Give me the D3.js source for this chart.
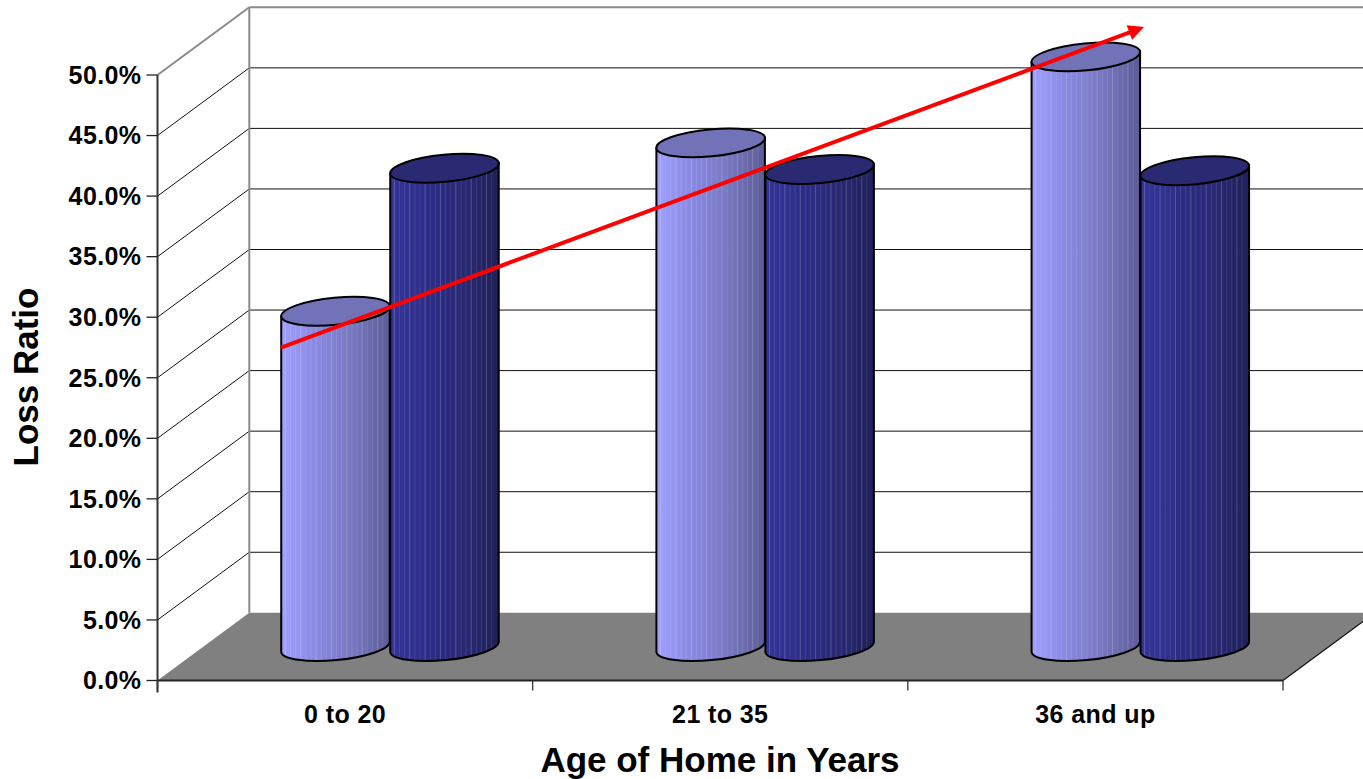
<!DOCTYPE html>
<html>
<head>
<meta charset="utf-8">
<script src="https://cdn.jsdelivr.net/npm/d3@7"></script>
<style>
  html, body { margin: 0; padding: 0; background: #fff; }
  svg { display: block; }
  text { font-family: Arial, "Liberation Sans", sans-serif; font-weight: bold; fill: #000; }
</style>
</head>
<body>
<svg id="chart" width="1363" height="779"></svg>
<script>
// ---- data ----
const categories = ["0 to 20", "21 to 35", "36 and up"];
const seriesA = [27.7, 41.6, 48.7];   // light cylinders
const seriesB = [39.5, 39.4, 39.3];   // dark cylinders
const yTicks = [0, 5, 10, 15, 20, 25, 30, 35, 40, 45, 50];
const yTickLabels = ["0.0%", "5.0%", "10.0%", "15.0%", "20.0%", "25.0%", "30.0%", "35.0%", "40.0%", "45.0%", "50.0%"];
const trendValues = [24.7, 51.2];     // red arrow start/end (loss ratio %)
const yTitle = "Loss Ratio";
const xTitle = "Age of Home in Years";

// ---- layout ----
const W = 1363, H = 779;
const svg = d3.select("#chart");
const x0 = 157.5, x1 = 1283;
const DX = 91.8, DY = -67.7;          // depth offset (front -> back)
const y = d3.scaleLinear().domain([0, 50]).range([680.5, 75]);
const x = d3.scaleBand().domain(categories).range([x0, x1]);
const diam = 109, ry = 13.5, tilt = -5.5;

const defs = svg.append("defs");
function grad(id, stops) {
  const g = defs.append("linearGradient").attr("id", id)
    .attr("x1", "0%").attr("x2", "100%").attr("y1", "0%").attr("y2", "0%");
  stops.forEach(s => g.append("stop").attr("offset", s[0]).attr("stop-color", s[1]));
}
grad("gA", [[0, "#a0a0ff"], [0.3, "#8a8ae4"], [0.65, "#7878c2"], [1, "#5c5c96"]]);
grad("gB", [[0, "#35359a"], [0.35, "#2d2d88"], [0.7, "#282872"], [1, "#1f1f58"]]);
defs.append("marker").attr("id", "arrow").attr("viewBox", "0 0 10 10")
  .attr("refX", 2).attr("refY", 5).attr("markerWidth", 4.6).attr("markerHeight", 3.9)
  .attr("orient", "auto").attr("markerUnits", "strokeWidth")
  .append("path").attr("d", "M0,0 L10,5 L0,10 Z").attr("fill", "#ff0000");

// ---- back wall gridlines ----
const g = svg.append("g");
yTicks.forEach((t, i) => {
  const last = i === yTicks.length - 1;
  if (t === 0) return;
  g.append("line").attr("x1", x0 + DX).attr("x2", W)
    .attr("y1", y(t) + DY).attr("y2", y(t) + DY)
    .attr("stroke", last ? "#8a8a8a" : "#111").attr("stroke-width", last ? 2 : 1);
  g.append("line").attr("x1", x0).attr("x2", x0 + DX)
    .attr("y1", y(t)).attr("y2", y(t) + DY)
    .attr("stroke", last ? "#8a8a8a" : "#111").attr("stroke-width", last ? 2 : 1);
});
// back-left vertical edge
g.append("line").attr("x1", x0 + DX).attr("x2", x0 + DX)
  .attr("y1", y(50) + DY).attr("y2", y(0) + DY).attr("stroke", "#8a8a8a").attr("stroke-width", 2);

// ---- floor ----
g.append("path")
  .attr("d", `M${x0},${y(0)} L${x1},${y(0)} L${x1 + DX},${y(0) + DY} L${x0 + DX},${y(0) + DY} Z`)
  .attr("fill", "#808080");
g.append("line").attr("x1", x1).attr("y1", y(0)).attr("x2", x1 + DX).attr("y2", y(0) + DY)
  .attr("stroke", "#111").attr("stroke-width", 1.2);
g.append("line").attr("x1", x0).attr("y1", y(0)).attr("x2", x1).attr("y2", y(0))
  .attr("stroke", "#222").attr("stroke-width", 2);

// ---- cylinders ----
const rad = tilt * Math.PI / 180;
const rx = diam / 2;
const ex = rx * Math.cos(rad), ey = rx * Math.sin(rad);
const stripeFracs = d3.range(0.04, 0.98, 0.047);

function cylinder(cx, v, fillId, topColor) {
  const cyTop = y(v) + DY / 2, cyBot = y(0) + DY / 2;
  const cg = svg.append("g");
  const body = `M${cx - ex},${cyTop - ey} L${cx - ex},${cyBot - ey} ` +
    `A${rx},${ry} ${tilt} 0 0 ${cx + ex},${cyBot + ey} L${cx + ex},${cyTop + ey} Z`;
  const clipId = "c" + Math.round(cx);
  defs.append("clipPath").attr("id", clipId).append("path").attr("d", body);
  cg.append("path").attr("d", body).attr("fill", `url(#${fillId})`);
  cg.append("g").attr("clip-path", `url(#${clipId})`).selectAll("line").data(stripeFracs).join("line")
    .attr("x1", f => cx - rx + f * diam).attr("x2", f => cx - rx + f * diam)
    .attr("y1", cyTop - 40).attr("y2", cyBot + 20)
    .attr("stroke", "#fff").attr("stroke-opacity", (f, i) => (i % 3 === 0 ? 0.2 : 0.1))
    .attr("stroke-width", 1);
  cg.append("path").attr("d", body).attr("fill", "none").attr("stroke", "#000").attr("stroke-width", 2);
  cg.append("ellipse").attr("cx", cx).attr("cy", cyTop).attr("rx", rx).attr("ry", ry)
    .attr("transform", `rotate(${tilt},${cx},${cyTop})`)
    .attr("fill", topColor).attr("stroke", "#000").attr("stroke-width", 2);
}

categories.forEach((c, i) => {
  const center = x(c) + x.bandwidth() / 2 + DX / 2 - 1;
  cylinder(center - diam / 2, seriesA[i], "gA", "#7272b8");
  cylinder(center + diam / 2, seriesB[i], "gB", "#2a2a72");
});

// ---- trend arrow ----
const firstC = x(categories[0]) + x.bandwidth() / 2 + DX / 2 - 1 - diam;
const lastC = x(categories[categories.length - 1]) + x.bandwidth() / 2 + DX / 2 + 4;
svg.append("line")
  .attr("x1", firstC).attr("y1", y(trendValues[0]) + DY / 2)
  .attr("x2", lastC - 13).attr("y2", y(trendValues[1]) + DY / 2 + 4.8)
  .attr("stroke", "#ff0000").attr("stroke-width", 4).attr("marker-end", "url(#arrow)");

// ---- y axis ----
const ax = svg.append("g");
ax.append("line").attr("x1", x0).attr("x2", x0).attr("y1", y(50)).attr("y2", y(0) + 12)
  .attr("stroke", "#333").attr("stroke-width", 2);
yTicks.forEach((t, i) => {
  ax.append("line").attr("x1", x0 - 11).attr("x2", x0).attr("y1", y(t)).attr("y2", y(t))
    .attr("stroke", "#222").attr("stroke-width", 1.3);
  ax.append("text").attr("x", x0 - 16).attr("y", y(t) + 8.8)
    .attr("text-anchor", "end").attr("font-size", 25).attr("letter-spacing", 0.4).text(yTickLabels[i]);
});

// ---- x axis ----
const xt = categories.map(c => x(c)).concat([x1]);
xt.forEach(v => {
  ax.append("line").attr("x1", v).attr("x2", v).attr("y1", y(0)).attr("y2", y(0) + 10)
    .attr("stroke", "#333").attr("stroke-width", 1.3);
});
categories.forEach(c => {
  ax.append("text").attr("x", x(c) + x.bandwidth() / 2).attr("y", 723)
    .attr("text-anchor", "middle").attr("font-size", 25).attr("letter-spacing", 0.4).text(c);
});

// ---- titles ----
svg.append("text").attr("transform", "translate(38,377) rotate(-90)")
  .attr("text-anchor", "middle").attr("font-size", 35).text(yTitle);
svg.append("text").attr("x", 720).attr("y", 772)
  .attr("text-anchor", "middle").attr("font-size", 35).text(xTitle);
</script>
</body>
</html>
